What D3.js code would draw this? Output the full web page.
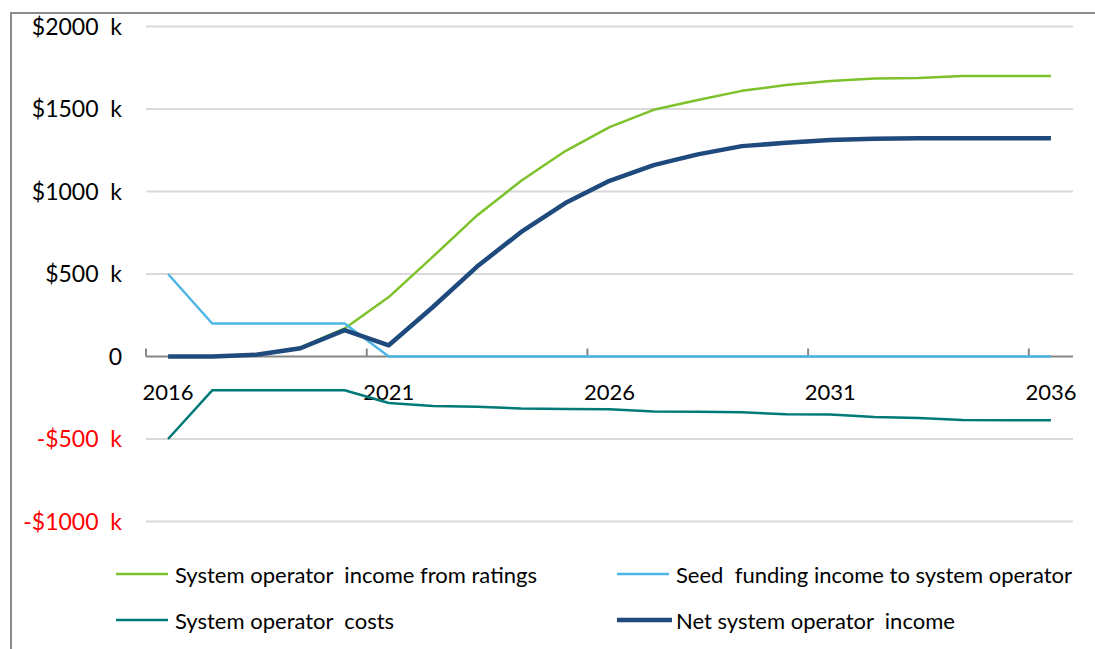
<!DOCTYPE html>
<html>
<head>
<meta charset="utf-8">
<script src="https://cdn.jsdelivr.net/npm/d3@7/dist/d3.min.js"></script>
<style>
  html, body { margin: 0; padding: 0; background: #fff; }
  svg { display: block; }
  text { font-family: Lato, "Open Sans", sans-serif; font-size: 22px; fill: #000; }
  .value-label { font-size: 23px; }
</style>
</head>
<body>
<svg id="chart" width="1095" height="649"></svg>
<script>
// Annual projections, $ thousands
const years = d3.range(2016, 2037).map(String);
const yearLabels = ["2016", "2021", "2026", "2031", "2036"];
const yTicks = [-1000, -500, 0, 500, 1000, 1500, 2000];

const incomeFromRatings = [0, 0, 12, 55, 170, 360, 605, 855, 1065, 1245, 1390, 1495, 1555, 1610, 1645, 1670, 1685, 1688, 1700, 1700, 1700];
const seedFunding = [500, 200, 200, 200, 200, 0, 0, 0, 0, 0, 0, 0, 0, 0, 0, 0, 0, 0, 0, 0, 0];
const operatorCosts = [-500, -205, -205, -205, -205, -282, -300, -305, -315, -318, -320, -333, -335, -338, -350, -352, -366, -372, -385, -386, -386];
const netIncome = [0, 0, 10, 50, 160, 68, 300, 545, 755, 930, 1065, 1160, 1225, 1275, 1295, 1312, 1320, 1322, 1322, 1322, 1322];

const seriesNames = [
  "System operator  income from ratings",
  "Seed  funding income to system operator",
  "System operator  costs",
  "Net system operator  income"
];
const seriesColors = ["#7DC12B", "#4DB6E6", "#007A78", "#1F4A7E"];
const seriesWidths = [2.5, 2.5, 2.5, 4.5];
const seriesValues = [incomeFromRatings, seedFunding, operatorCosts, netIncome];

const svg = d3.select("#chart");

// outer frame (top and left edges visible)
svg.append("path")
  .attr("d", "M11,649 L11,13 L1095,13")
  .attr("fill", "none")
  .attr("stroke", "#8C8C8C")
  .attr("stroke-width", 2);

const x = d3.scaleBand().domain(years).range([146, 1073]).padding(0);
const y = d3.scaleLinear().domain([-1000, 2000]).range([521.5, 26.5]);
const cx = d => x(d) + x.bandwidth() / 2;

// horizontal gridlines
svg.append("g")
  .selectAll("line")
  .data(yTicks.filter(v => v !== 0))
  .join("line")
  .attr("x1", 146).attr("x2", 1073)
  .attr("y1", d => y(d)).attr("y2", d => y(d))
  .attr("stroke", "#D9D9D9")
  .attr("stroke-width", 2);

// value axis labels
svg.append("g")
  .selectAll("text")
  .data(yTicks)
  .join("text")
  .attr("class", "value-label")
  .attr("x", 122)
  .attr("y", d => y(d) + 8)
  .attr("text-anchor", "end")
  .style("white-space", "pre")
  .style("fill", d => d < 0 ? "#FF0000" : "#000")
  .text(d => d === 0 ? "0" : (d < 0 ? "-$" : "$") + Math.abs(d) + "  k");

// category axis at zero
const xAxis = svg.append("g").attr("transform", `translate(0,${y(0)})`);
xAxis.append("line")
  .attr("x1", 146).attr("x2", 1073)
  .attr("stroke", "#868686").attr("stroke-width", 2);
xAxis.selectAll("line.tick")
  .data(yearLabels)
  .join("line")
  .attr("class", "tick")
  .attr("x1", d => x(d)).attr("x2", d => x(d))
  .attr("y1", 0).attr("y2", -8)
  .attr("stroke", "#868686").attr("stroke-width", 2);
xAxis.selectAll("text")
  .data(yearLabels)
  .join("text")
  .attr("x", d => cx(d))
  .attr("y", 43)
  .attr("text-anchor", "middle")
  .text(d => d);

// series lines
const line = d3.line().x((d, i) => cx(years[i])).y(d => y(d));
svg.append("g")
  .selectAll("path")
  .data(seriesValues)
  .join("path")
  .attr("d", d => line(d))
  .attr("fill", "none")
  .attr("stroke", (d, i) => seriesColors[i])
  .attr("stroke-width", (d, i) => seriesWidths[i])
  .attr("stroke-linejoin", "round");

// legend, two columns by two rows
const legendPos = [[116, 574], [617, 574], [116, 620], [617, 620]];
const legend = svg.append("g")
  .selectAll("g")
  .data(seriesNames)
  .join("g")
  .attr("transform", (d, i) => `translate(${legendPos[i][0]},${legendPos[i][1]})`);
legend.append("line")
  .attr("x1", 0).attr("x2", (d, i) => i === 3 ? 55 : 52)
  .attr("stroke", (d, i) => seriesColors[i])
  .attr("stroke-width", (d, i) => seriesWidths[i]);
legend.append("text")
  .attr("x", 59)
  .attr("y", 9)
  .style("white-space", "pre")
  .text(d => d);
</script>
</body>
</html>
